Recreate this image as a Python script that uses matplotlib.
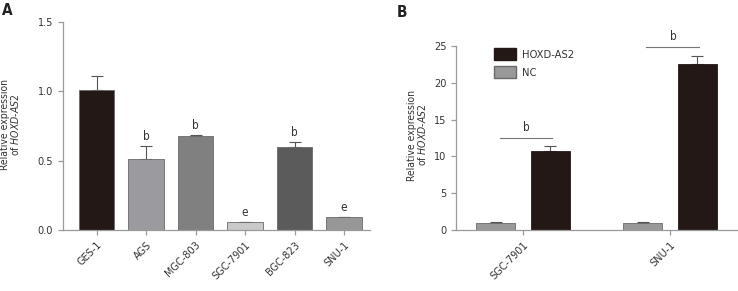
import matplotlib
matplotlib.use("Agg")
import matplotlib.pyplot as plt
from matplotlib.patches import Patch
import numpy as np

plt.rcParams['font.family'] = ['DejaVu Sans']
plt.rcParams['font.stretch'] = 'condensed'
plt.rcParams['mathtext.fontset'] = 'custom'
plt.rcParams['mathtext.it'] = 'DejaVu Sans:italic'
plt.rcParams['mathtext.rm'] = 'DejaVu Sans'

# Panel A data
cells_a = ["GES-1", "AGS", "MGC-803", "SGC-7901", "BGC-823", "SNU-1"]
vals_a = [1.01, 0.51, 0.675, 0.055, 0.60, 0.092]
errs_a = [0.10, 0.095, 0.012, 0.002, 0.037, 0.002]
sig_a = ["", "b", "b", "e", "b", "e"]
colors_a = ["#231815", "#9b9b9f", "#808080", "#c9c9c9", "#5b5b5b", "#979797"]

# Panel B data
cells_b = ["SGC-7901", "SNU-1"]
nc_vals = [1.0, 1.0]
nc_errs = [0.08, 0.08]
hox_vals = [10.8, 22.5]
hox_errs = [0.6, 1.2]
sig_b = ["b", "b"]
bracket_b = [12.5, 24.9]

axis_col = "#9a9a9a"
txt_col = "#333333"
FS = 7.8

fig = plt.figure(figsize=(7.38, 2.91), dpi=100)
W, H = 738, 291

def add_ax(l, r, t, b):
    return fig.add_axes([l / W, 1 - b / H, (r - l) / W, (b - t) / H])

def style(ax):
    for s in ["top", "right"]:
        ax.spines[s].set_visible(False)
    for s in ["left", "bottom"]:
        ax.spines[s].set_color(axis_col)
        ax.spines[s].set_linewidth(0.9)
    ax.tick_params(axis="both", colors=axis_col, labelcolor=txt_col, labelsize=FS,
                   length=3.5, width=0.9, direction="out")

ylab = "Relative expression\nof $\\mathit{HOXD}$-$\\mathit{AS2}$"

# Panel A
axA = add_ax(63, 370, 22, 230)
style(axA)
xa = np.arange(len(cells_a))
axA.bar(xa, vals_a, width=0.71, color=colors_a, edgecolor="#6a6a6a", linewidth=0.6, zorder=2)
axA.errorbar(xa, vals_a, yerr=[np.zeros(len(vals_a)), errs_a], fmt="none",
             ecolor="#555555", elinewidth=0.8, capsize=4, capthick=0.8, zorder=1)
for xi, v, e, s in zip(xa, vals_a, errs_a, sig_a):
    if s:
        axA.annotate(s, (xi, v + e), xytext=(0, 2), textcoords="offset points",
                     ha="center", va="bottom", fontsize=FS + 0.7, color=txt_col)
axA.set_xlim(-0.677, 5.525)
axA.set_ylim(0, 1.5)
axA.set_yticks([0.0, 0.5, 1.0, 1.5])
axA.set_yticklabels(["0.0", "0.5", "1.0", "1.5"])
axA.set_xticks(xa)
axA.set_xticklabels(cells_a, rotation=45, ha="right", rotation_mode="anchor")
axA.set_ylabel(ylab, fontsize=FS - 0.3, color=txt_col, linespacing=0.85)
axA.yaxis.set_label_coords(-0.137, 0.505)

# Panel B
axB = add_ax(456, 737, 46, 230)
style(axB)
xb = np.arange(len(cells_b))
off = 0.187
wb = 0.265
axB.bar(xb - off, nc_vals, width=wb, color="#999999", edgecolor="#6a6a6a", linewidth=0.6,
        zorder=2, label="NC")
axB.bar(xb + off, hox_vals, width=wb, color="#231815", edgecolor="#231815", linewidth=0.6,
        zorder=2, label="HOXD-AS2")
axB.errorbar(xb - off, nc_vals, yerr=[np.zeros(2), nc_errs], fmt="none", ecolor="#555555",
             elinewidth=0.8, capsize=4, capthick=0.8, zorder=1)
axB.errorbar(xb + off, hox_vals, yerr=[np.zeros(2), hox_errs], fmt="none", ecolor="#555555",
             elinewidth=0.8, capsize=4, capthick=0.8, zorder=1)
for xi, yb, s in zip(xb, bracket_b, sig_b):
    axB.plot([xi - 0.16, xi + 0.2], [yb, yb], color="#777777", lw=0.8, clip_on=False)
    axB.annotate(s, (xi + 0.02, yb), xytext=(0, 3), textcoords="offset points",
                 ha="center", va="bottom", fontsize=FS + 0.7, color=txt_col)
axB.set_xlim(-0.456, 1.456)
axB.set_ylim(0, 25)
axB.set_yticks([0, 5, 10, 15, 20, 25])
axB.set_xticks(xb)
axB.set_xticklabels(cells_b, rotation=45, ha="right", rotation_mode="anchor")
axB.set_ylabel(ylab, fontsize=FS - 0.3, color=txt_col, linespacing=0.85)
axB.yaxis.set_label_coords(-0.10, 0.516)
handles = [Patch(facecolor="#231815", edgecolor="#231815", label="HOXD-AS2"),
           Patch(facecolor="#999999", edgecolor="#6a6a6a", label="NC")]
axB.legend(handles=handles, loc="upper left", bbox_to_anchor=(0.135, 0.99), frameon=False,
           fontsize=FS + 0.2, handlelength=2.0, handleheight=1.3, borderpad=0, borderaxespad=0,
           labelspacing=0.55, handletextpad=0.55, labelcolor=txt_col)

fig.text(2 / W, 1 - 3 / H, "A", fontsize=11, fontweight="bold", va="top", ha="left",
         color="#222222")
fig.text(397 / W, 1 - 5 / H, "B", fontsize=11, fontweight="bold", va="top", ha="left",
         color="#222222")

fig.savefig("out.png", dpi=100)
